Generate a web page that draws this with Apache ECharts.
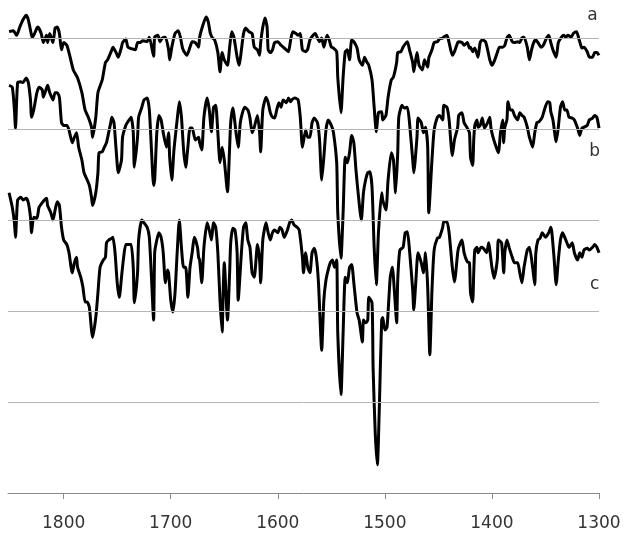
<!DOCTYPE html>
<html>
<head>
<meta charset="utf-8">
<script src="https://cdn.jsdelivr.net/npm/echarts@6/dist/echarts.min.js"></script>
<style>
  html, body { margin: 0; padding: 0; background: #fff; }
  #container { width: 626px; height: 533px; }
</style>
</head>
<body>
<div id="container"></div>
<script>
// spectrum a (top)
var waveA = [1851,1847,1844,1841,1838,1835,1833,1830,1829,1825,1824,1821,1819,1816,1815,1813,1810,1808,1806,1804,1802,1800,1797,1794,1791,1787,1783,1780,1777,1774,1773,1770,1768,1764,1761,1759,1755,1754,1751,1749,1746,1745,1742,1740,1736,1733,1731,1729,1726,1722,1720,1716,
  1715,1712,1710,1708,1705,1702,1701,1699,1696,1693,1691,1689,1687,1685,1682,1680,1677,1674,1673,1670,1667,1665,1663,1661,1659,1656,1654,1652,1650,1647,1645,1643,1641,1638,1636,1634,1632,1630,1627,1624,1622,1619,1617,1616,1614,1612,1610,1609,1607,1605,1603,1600,1597,1595,1592,1590,1588,1586,1583,1581,1579,1577,1574,1572,
  1570,1567,1565,1563,1561,1559,1557,1554,1552,1550,1548,1545,1544,1541,1539,1537,1535,1533,1531,1529,1526,1524,1521,1519,1517,1515,1512,1510,1508,1506,1503,1502,1499,1497,1494,1492,1489,1488,1485,1483,1479,1477,1474,1473,1470,1468,1465,1463,1460,1459,1456,1454,1451,1449,1446,1445,1442,1440,1437,1435,1432,1431,1428,1426,1423,1421,
  1420,1418,1416,1413,1411,1409,1406,1404,1402,1400,1398,1395,1393,1390,1388,1386,1384,1381,1379,1376,1374,1372,1370,1367,1365,1363,1361,1359,1357,1354,1352,1349,1347,1345,1343,1340,1338,1335,1333,1331,1329,1326,1324,1321,1319,1317,1316,1314,1311,1309,1306,1304,1302,1300];
var absA = [5.07,5.08,5.03,5.12,5.20,5.25,5.20,5.03,5.01,5.11,5.12,5.05,4.95,5.03,4.95,5.05,4.95,5.11,5.12,5.05,4.87,4.95,4.92,4.79,4.65,4.56,4.40,4.21,4.13,4.02,3.91,4.13,4.40,4.54,4.73,4.76,4.87,4.90,4.84,4.79,4.90,4.95,4.99,4.90,4.88,4.87,4.95,4.95,4.97,4.96,5.01,4.80,
  5.01,5.03,4.96,5.00,5.01,4.87,4.76,4.90,5.05,5.08,5.01,4.89,4.84,4.81,4.90,4.96,4.95,4.90,5.01,5.14,5.23,5.18,5.05,5.00,4.98,4.84,4.63,4.84,4.76,4.70,4.90,5.07,5.01,4.79,4.70,4.87,5.05,5.11,5.07,5.05,4.90,4.87,4.81,4.95,5.12,5.22,5.12,4.87,4.84,4.87,4.95,4.96,4.92,4.90,4.87,4.85,4.98,5.07,5.05,5.03,5.05,4.87,4.85,4.88,
  4.98,5.03,5.05,5.00,4.96,5.00,4.90,5.03,4.98,4.90,4.89,4.85,4.57,4.18,4.57,4.85,4.87,4.76,4.98,4.96,4.89,4.76,4.70,4.79,4.74,4.70,4.54,4.24,3.97,4.18,4.19,4.10,4.15,4.35,4.54,4.57,4.73,4.84,4.85,4.90,4.96,4.87,4.73,4.63,4.84,4.70,4.65,4.76,4.68,4.78,4.87,4.95,4.96,4.99,5.00,5.01,5.03,4.95,4.81,4.85,4.95,4.96,4.95,4.92,4.95,4.89,
  4.90,4.85,4.89,4.79,4.95,4.98,4.96,4.87,4.76,4.70,4.74,4.84,4.90,4.90,4.92,5.00,5.03,4.96,4.95,4.96,4.95,5.00,5.01,4.90,4.76,4.87,4.95,4.98,4.95,4.90,4.92,5.00,5.03,4.95,4.87,4.79,4.95,5.01,5.03,5.01,5.03,5.01,5.05,5.07,5.00,4.92,4.89,4.90,4.85,4.79,4.79,4.84,4.84,4.81];

// spectrum b (middle)
var waveB = [1851,1848,1846,1845,1843,1840,1838,1835,1833,1831,1830,1828,1825,1823,1820,1819,1816,1815,1813,1810,1808,1806,1804,1802,1800,1797,1795,1792,1790,1788,1786,1783,1781,1778,1776,1774,1773,1770,1768,1767,1764,1762,1760,1758,1756,1755,1753,1751,1749,1746,1745,1742,1740,1737,1735,1734,1731,1730,1727,1725,1722,1720,1718,1716,
  1715,1713,1711,1709,1707,1704,1702,1701,1699,1697,1694,1692,1690,1688,1686,1684,1682,1680,1677,1674,1673,1671,1669,1666,1664,1662,1660,1658,1656,1654,1652,1650,1647,1645,1644,1642,1639,1637,1635,1633,1631,1628,1626,1624,1622,1619,1617,1616,1614,1611,1609,1607,1605,1603,1601,1599,1597,1595,1592,1590,1588,1587,1584,1581,1579,1577,1574,1572,
  1570,1568,1566,1563,1561,1559,1557,1555,1553,1550,1548,1545,1544,1541,1539,1537,1535,1533,1531,1529,1527,1525,1522,1520,1518,1516,1514,1512,1510,1508,1506,1503,1502,1499,1497,1494,1492,1490,1488,1487,1484,1482,1479,1477,1474,1473,1470,1469,1466,1464,1462,1460,1459,1456,1454,1451,1449,1446,1445,1442,1440,1437,1435,1432,1431,1428,1426,1423,1421,
  1420,1418,1417,1416,1414,1413,1411,1409,1407,1404,1402,1401,1399,1396,1394,1392,1390,1389,1388,1386,1385,1383,1381,1379,1376,1374,1372,1370,1367,1365,1362,1360,1358,1356,1353,1351,1348,1346,1345,1343,1340,1338,1336,1334,1332,1330,1328,1325,1323,1320,1318,1316,1314,1311,1309,1306,1304,1302,1300];
var absB = [4.48,4.46,4.21,4.01,4.51,4.52,4.51,4.56,4.51,4.32,4.13,4.21,4.40,4.46,4.43,4.35,4.45,4.48,4.40,4.32,4.40,4.40,4.35,4.07,4.04,4.04,3.99,3.85,3.91,3.96,3.80,3.66,3.52,3.44,3.38,3.25,3.16,3.30,3.52,3.74,3.75,3.80,3.85,3.96,4.07,4.13,4.07,3.77,3.52,3.66,3.91,4.04,4.08,4.13,3.96,3.58,3.91,4.13,4.24,4.32,4.34,4.21,3.77,3.38,
  3.44,3.96,4.15,4.10,3.96,3.80,3.96,3.69,3.44,3.77,4.10,4.30,4.13,3.77,3.58,3.80,4.01,4.01,3.88,3.91,3.85,3.77,4.13,4.34,4.21,3.97,4.24,4.26,3.96,3.63,3.80,3.66,3.31,3.80,4.07,4.23,3.96,3.80,4.07,4.18,4.24,4.21,4.12,3.96,4.02,4.15,3.96,3.75,4.21,4.35,4.29,4.18,4.13,4.12,4.21,4.29,4.24,4.32,4.29,4.34,4.30,4.32,4.34,4.32,4.13,3.80,3.99,3.91,
  3.91,4.07,4.12,4.07,3.88,3.44,3.69,3.99,4.10,4.04,3.96,3.63,3.08,2.58,3.08,3.69,3.63,3.74,3.93,3.85,3.55,3.30,3.00,3.30,3.44,3.52,3.53,3.36,2.70,2.29,2.86,3.30,3.22,3.11,3.44,3.74,3.66,3.30,3.74,4.13,4.26,4.23,4.24,4.07,3.66,3.52,3.91,4.12,4.07,3.96,4.02,3.80,3.08,3.66,3.99,4.13,4.15,4.10,4.26,4.24,4.10,3.71,3.88,4.02,4.15,4.18,4.07,4.01,3.96,
  3.69,3.60,3.88,4.04,4.10,4.02,4.04,4.12,4.01,4.07,4.13,4.02,3.91,3.80,3.74,3.96,4.10,3.85,4.02,4.10,4.30,4.21,4.21,4.15,4.10,4.18,4.15,4.13,4.02,3.91,3.80,3.96,4.07,4.08,4.13,4.21,4.30,4.29,4.19,4.10,3.86,4.02,4.24,4.30,4.21,4.21,4.13,4.12,4.10,4.01,3.93,4.01,4.02,4.04,4.10,4.12,4.15,4.13,4.01];

// spectrum c (bottom)
var waveC = [1851,1848,1846,1845,1843,1840,1838,1835,1833,1831,1830,1828,1825,1823,1820,1818,1816,1815,1812,1810,1808,1806,1804,1802,1800,1797,1795,1792,1790,1788,1787,1784,1782,1780,1778,1776,1774,1773,1770,1768,1766,1763,1761,1760,1758,1755,1754,1752,1750,1748,1746,1744,1742,1740,1737,1735,1734,1731,1730,1727,1725,1722,1720,1718,1716,
  1715,1713,1711,1709,1707,1705,1703,1702,1700,1698,1696,1694,1692,1690,1688,1686,1684,1682,1680,1678,1675,1674,1673,1671,1669,1666,1664,1662,1660,1658,1656,1654,1652,1651,1650,1647,1645,1644,1642,1640,1638,1637,1634,1632,1630,1628,1626,1624,1622,1619,1617,1616,1614,1611,1609,1607,1605,1603,1600,1598,1596,1594,1591,1589,1587,1585,1582,1580,1577,1576,1574,1572,
  1570,1568,1566,1564,1562,1559,1557,1555,1553,1551,1549,1547,1545,1544,1541,1539,1537,1535,1533,1531,1529,1526,1524,1521,1520,1518,1516,1515,1512,1511,1509,1507,1505,1503,1502,1500,1498,1495,1493,1491,1489,1488,1486,1483,1481,1479,1477,1474,1473,1471,1469,1466,1464,1462,1460,1458,1456,1454,1451,1449,1446,1445,1442,1440,1437,1435,1432,1431,1428,1426,1423,1421,
  1420,1418,1417,1416,1414,1413,1410,1408,1405,1403,1402,1400,1398,1395,1394,1391,1389,1388,1386,1384,1381,1379,1376,1374,1372,1370,1367,1365,1362,1360,1359,1357,1355,1353,1350,1347,1345,1344,1342,1340,1338,1336,1334,1332,1330,1328,1325,1323,1320,1318,1316,1314,1311,1309,1306,1304,1302,1300];
var absC = [3.30,3.14,2.97,2.81,3.22,3.25,3.22,3.24,3.19,3.03,2.86,3.03,3.02,3.14,3.19,3.22,3.24,3.16,3.08,3.00,3.11,3.20,3.16,2.92,2.78,2.73,2.64,2.42,2.53,2.59,2.48,2.37,2.26,2.10,2.10,2.04,1.79,1.71,1.93,2.20,2.48,2.56,2.59,2.75,2.78,2.80,2.81,2.64,2.31,2.15,2.37,2.59,2.73,2.73,2.73,2.48,2.09,2.42,2.78,3.00,2.97,2.92,2.81,2.37,1.90,
  2.64,2.78,2.86,2.81,2.64,2.31,2.45,2.42,2.12,1.99,2.20,2.64,3.00,2.70,2.48,2.48,2.15,2.48,2.64,2.81,2.70,2.59,2.56,2.31,2.70,2.97,2.89,2.78,2.97,2.92,2.64,2.12,1.77,2.23,2.53,1.90,2.42,2.75,2.91,2.89,2.64,2.12,2.64,2.92,2.97,2.78,2.70,2.42,2.37,2.73,2.56,2.31,2.78,2.97,2.86,2.78,2.86,2.89,2.86,2.92,2.89,2.81,2.89,2.97,3.00,2.95,2.92,2.89,2.59,2.42,2.64,2.48,
  2.42,2.64,2.69,2.59,2.31,1.57,2.12,2.34,2.45,2.53,2.56,2.48,2.56,1.76,1.08,1.76,2.37,2.31,2.48,2.51,2.31,1.98,1.90,1.66,1.90,1.87,1.90,2.15,2.09,1.38,0.66,0.31,1.02,1.90,1.93,1.79,1.82,2.37,2.48,2.20,1.87,2.34,2.67,2.70,2.86,2.87,2.67,2.23,2.01,2.34,2.64,2.53,2.42,2.64,2.26,1.52,2.23,2.67,2.80,2.81,2.92,2.98,2.98,2.86,2.48,2.32,2.64,2.70,2.78,2.64,2.54,2.53,
  2.20,2.10,2.42,2.67,2.70,2.64,2.70,2.69,2.64,2.75,2.67,2.48,2.36,2.56,2.78,2.75,2.42,2.64,2.78,2.70,2.59,2.53,2.53,2.42,2.31,2.48,2.67,2.70,2.48,2.29,2.64,2.78,2.80,2.86,2.81,2.86,2.92,2.86,2.59,2.29,2.56,2.78,2.86,2.81,2.75,2.70,2.75,2.64,2.56,2.64,2.59,2.67,2.69,2.67,2.70,2.73,2.70,2.64];

var xTicks = [1800, 1700, 1600, 1500, 1400, 1300];
var gridLevels = [1, 2, 3, 4, 5];
var traceNames = ['a', 'b', 'c'];
var labelPos = [[1306, 5.25], [1304, 3.75], [1304, 2.29]];

function zip(w, v) {
    var out = [];
    for (var i = 0; i < w.length; i++) {
        out.push([w[i], v[i]]);
    }
    return out;
}

var myChart = echarts.init(document.getElementById('container'));
var allData = [zip(waveA, absA), zip(waveB, absB), zip(waveC, absC)];

var series = [];
// horizontal reference lines (drawn under the spectra)
series.push({
    name: 'grid',
    type: 'line',
    data: [],
    silent: true,
    z: 1,
    markLine: {
        silent: true,
        symbol: ['none', 'none'],
        label: { show: false },
        lineStyle: { color: '#b4b4b4', width: 1, type: 'solid' },
        data: gridLevels.map(function (g) { return { yAxis: g }; })
    }
});
for (var i = 0; i < allData.length; i++) {
    series.push({
        name: traceNames[i],
        type: 'line',
        data: allData[i],
        showSymbol: false,
        smooth: 0.2,
        lineStyle: { color: '#000', width: 3 },
        z: 3,
        markPoint: {
            symbol: 'circle',
            symbolSize: 1,
            itemStyle: { color: 'rgba(0,0,0,0)' },
            label: {
                show: true,
                position: 'inside',
                formatter: traceNames[i],
                color: '#333',
                fontSize: 17,
                fontFamily: 'DejaVu Sans'
            },
            data: [{ coord: labelPos[i] }]
        }
    });
}

var option = {
    animation: false,
    backgroundColor: '#fff',
    grid: {
        left: 8,
        right: 27,
        top: 0,
        bottom: 40
    },
    xAxis: {
        type: 'value',
        inverse: true,
        min: 1300,
        max: 1852,
        interval: 100,
        splitLine: { show: false },
        axisLine: { lineStyle: { color: '#8a8a8a', width: 1 } },
        axisTick: {
            show: true,
            inside: false,
            length: 6,
            customValues: xTicks,
            lineStyle: { color: '#8a8a8a' }
        },
        axisLabel: {
            margin: 22,
            color: '#333',
            fontSize: 17,
            fontFamily: 'DejaVu Sans',
            customValues: xTicks,
            formatter: function (val) {
                return String(val);
            }
        }
    },
    yAxis: {
        type: 'value',
        min: 0,
        max: 5.418,
        axisLine: { show: false },
        axisTick: { show: false },
        axisLabel: { show: false },
        splitLine: { show: false }
    },
    series: series
};
myChart.setOption(option);
</script>
</body>
</html>
